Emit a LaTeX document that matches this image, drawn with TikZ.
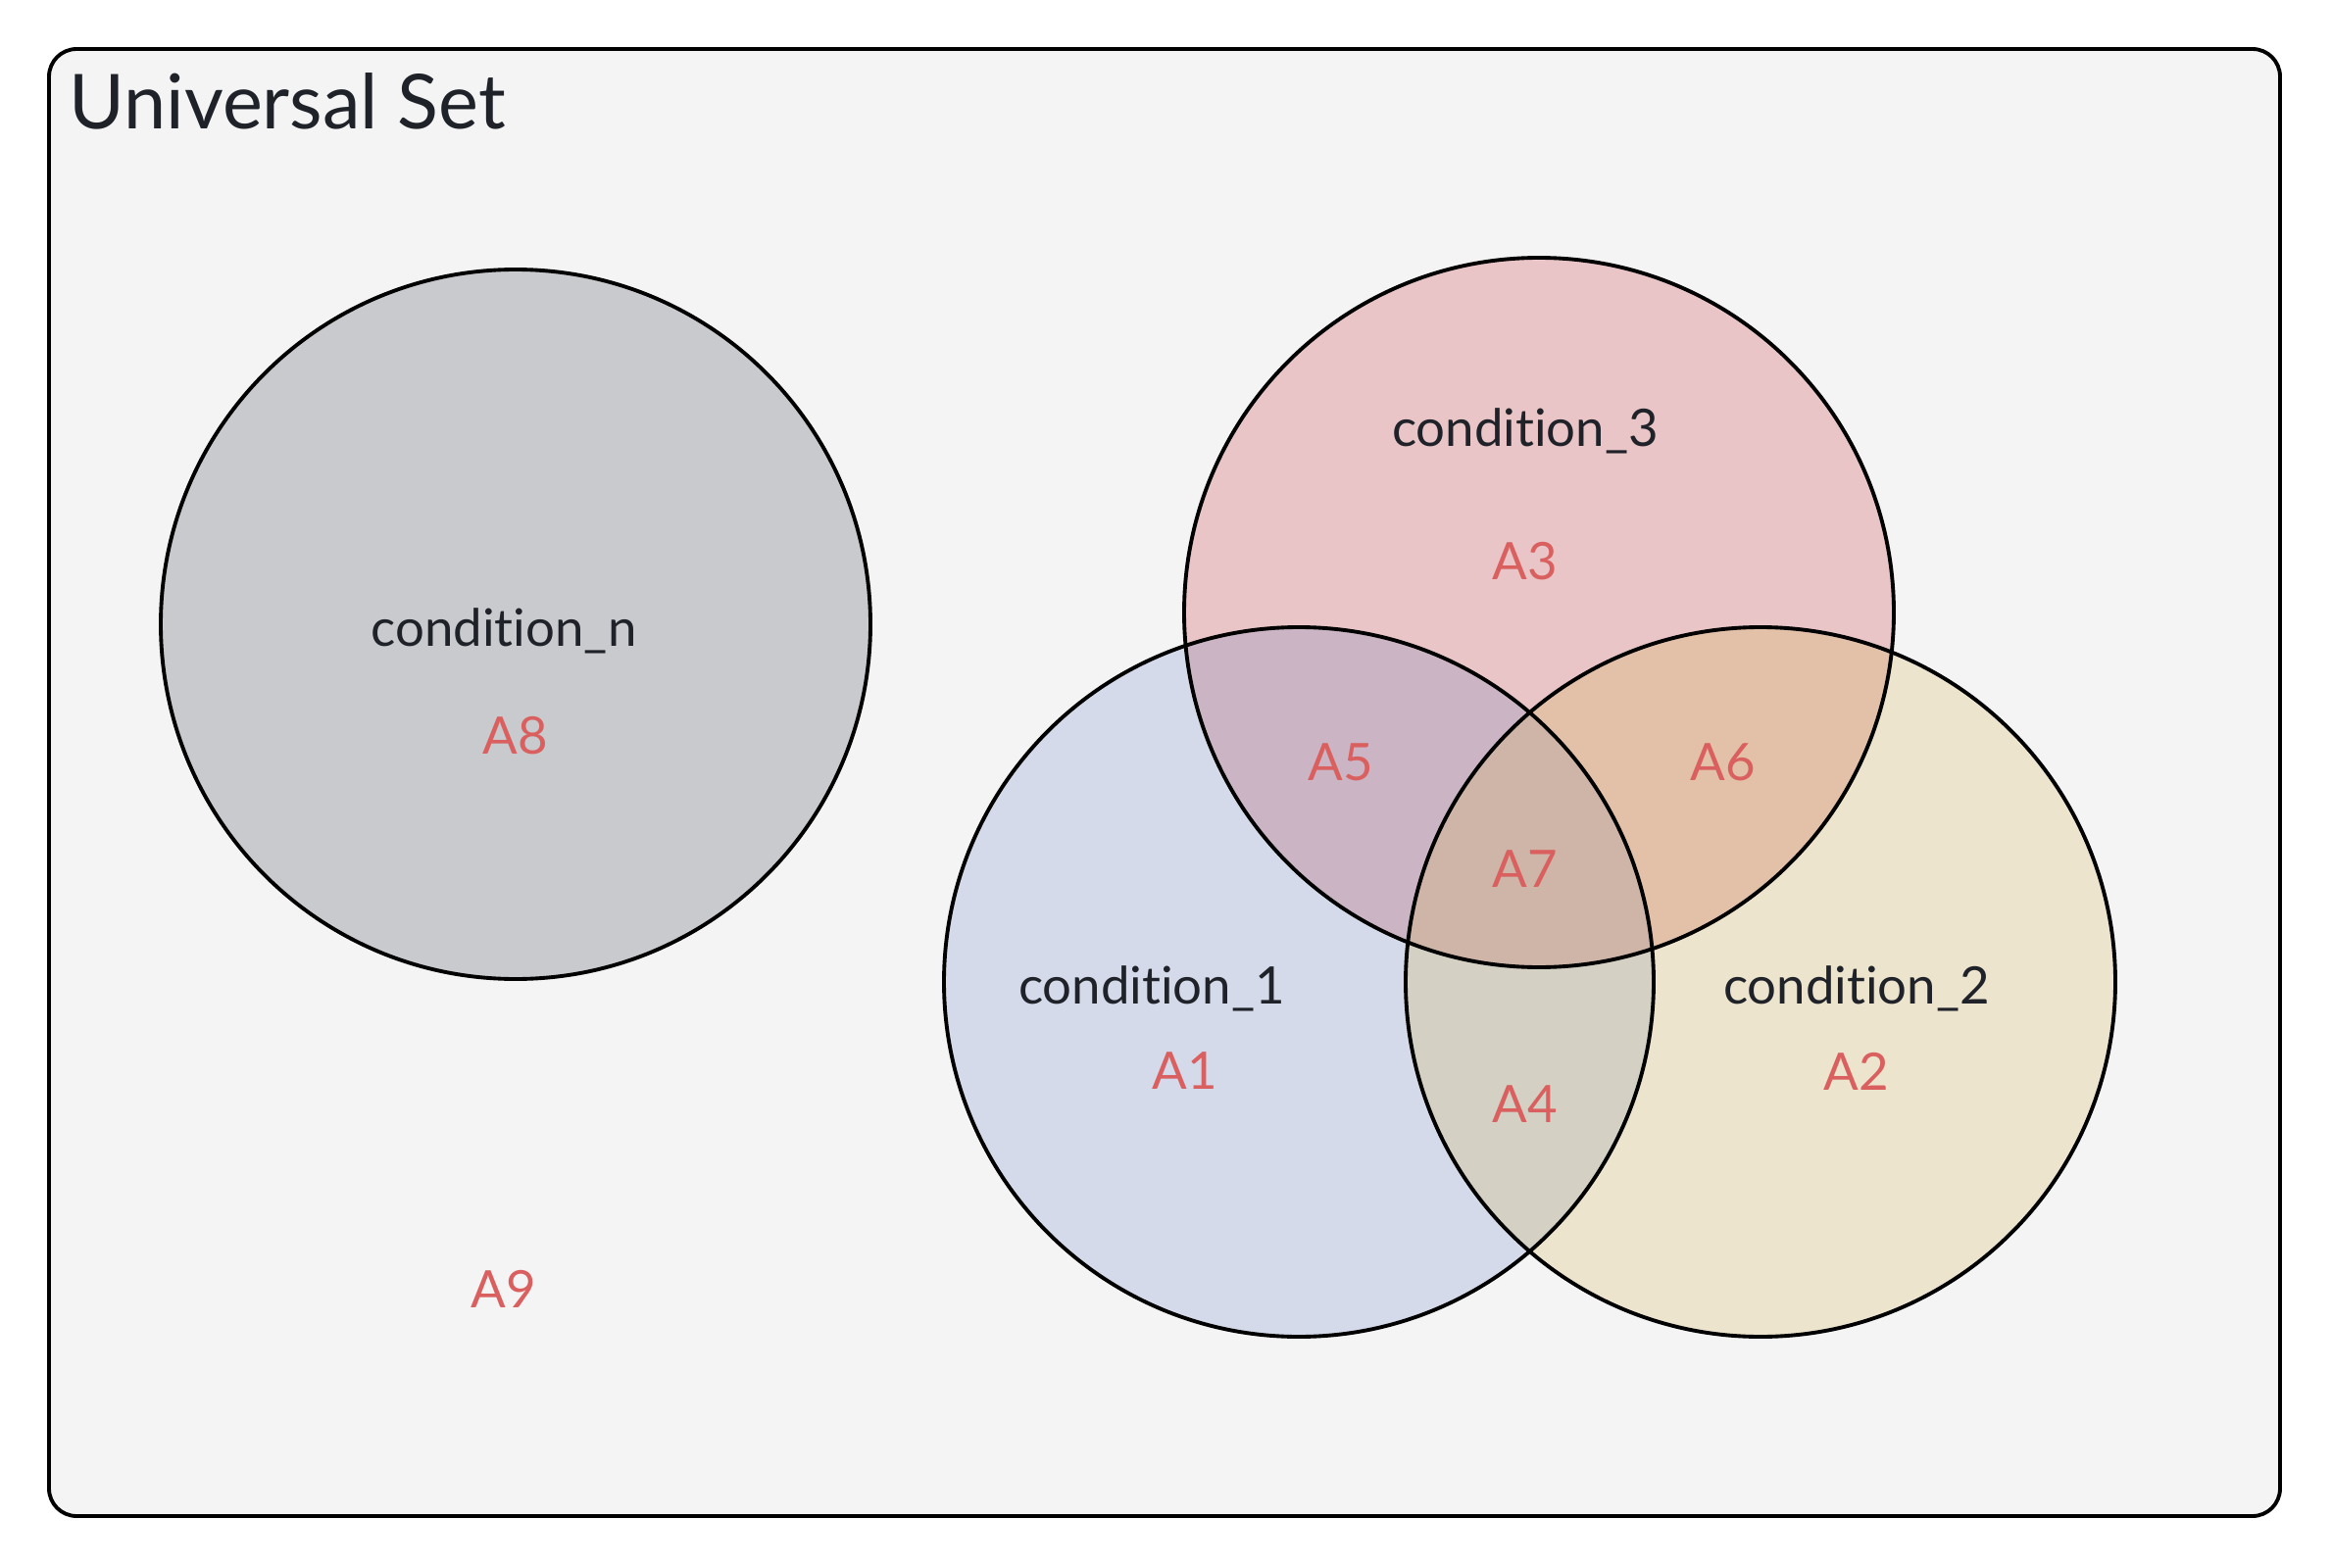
\documentclass[tikz,border=0pt]{standalone}
\usepackage{fontspec}
\setmainfont{Lato}[Ligatures={NoCommon,NoRare}]
\definecolor{bgc}{HTML}{F4F4F4}
\definecolor{cn}{HTML}{C9CACE}
\definecolor{cthree}{HTML}{EAC5C7}
\definecolor{cone}{HTML}{D4DAEA}
\definecolor{ctwo}{HTML}{EDE4CD}
\definecolor{afive}{HTML}{CBB5C5}
\definecolor{asix}{HTML}{E3C1A8}
\definecolor{afour}{HTML}{D4D1C4}
\definecolor{aseven}{HTML}{CEB5A8}
\definecolor{txt}{HTML}{1F2329}
\definecolor{red}{HTML}{D9605F}
\begin{document}
\begin{tikzpicture}[x=0.01cm,y=-0.01cm,
  cond/.style={font=\fontsize{15}{18}\selectfont, text=txt},
  area/.style={font=\fontsize{15}{18}\selectfont, text=red},
  outl/.style={draw=black, line width=1.1pt}]
\useasboundingbox (0,0) rectangle (2378,1600);
\fill[white] (0,0) rectangle (2378,1600);
\draw[fill=bgc, line width=1.1pt, rounded corners=8] (50,50) rectangle (2326,1547);
\coordinate (ccn) at (526,637);
\coordinate (cc3) at (1570,625);
\coordinate (cc1) at (1325,1002);
\coordinate (cc2) at (1796,1002);
\def\R{362}
% base fills
\fill[cn] (ccn) circle[radius=\R];
\fill[cone] (cc1) circle[radius=\R];
\fill[ctwo] (cc2) circle[radius=\R];
\fill[cthree] (cc3) circle[radius=\R];
% pairwise overlaps
\begin{scope}\clip (cc1) circle[radius=\R]; \fill[afive] (cc3) circle[radius=\R];\end{scope}
\begin{scope}\clip (cc2) circle[radius=\R]; \fill[asix] (cc3) circle[radius=\R];\end{scope}
\begin{scope}\clip (cc1) circle[radius=\R]; \fill[afour] (cc2) circle[radius=\R];\end{scope}
\begin{scope}\clip (cc1) circle[radius=\R]; \clip (cc2) circle[radius=\R]; \fill[aseven] (cc3) circle[radius=\R];\end{scope}
% outlines
\draw[outl] (ccn) circle[radius=\R];
\draw[outl] (cc1) circle[radius=\R];
\draw[outl] (cc2) circle[radius=\R];
\draw[outl] (cc3) circle[radius=\R];
% texts
\node[anchor=base west, inner sep=0, text=txt, font=\fontsize{22}{27}\selectfont] (title) at (70,132) {Universal Set};
\node[cond] (tn) at (514,644) {condition\_n};
\node[cond] (t3) at (1556,440) {condition\_3};
\node[cond] (t1) at (1175,1009) {condition\_1};
\node[cond] (t2) at (1894,1009) {condition\_2};
\node[area] (a8) at (526,751) {A8};
\node[area] (a3) at (1556,573) {A3};
\node[area] (a5) at (1368,778) {A5};
\node[area] (a6) at (1758,778) {A6};
\node[area] (a7) at (1556,887) {A7};
\node[area] (a4) at (1556,1127) {A4};
\node[area] (a1) at (1209,1093) {A1};
\node[area] (a2) at (1894,1093) {A2};
\node[area] (a9) at (514,1315) {A9};
\end{tikzpicture}
\end{document}
